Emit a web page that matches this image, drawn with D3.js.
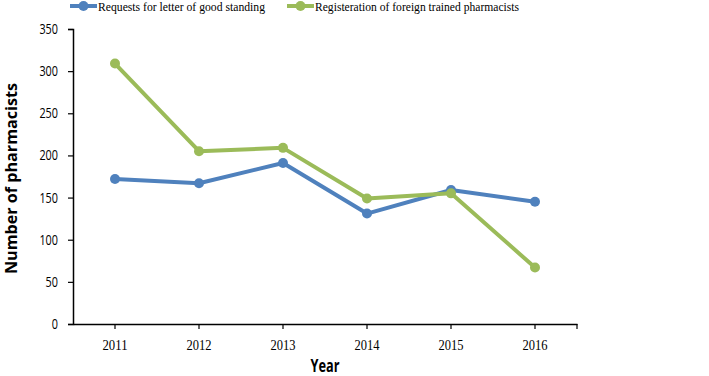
<!DOCTYPE html>
<html>
<head>
<meta charset="utf-8">
<script src="https://cdn.jsdelivr.net/npm/d3@7"></script>
<style>
  body { margin: 0; background: #fff; }
</style>
</head>
<body>
<div id="chart"></div>
<script>
// chart data
const years = ['2011', '2012', '2013', '2014', '2015', '2016'];
const goodStanding = [172, 167, 191, 131, 159, 145];
const foreignTrained = [309, 205, 209, 149, 155, 67];
const yTicks = [0, 50, 100, 150, 200, 250, 300, 350];

const seriesList = [
    { name: 'Requests for letter of good standing', values: goodStanding, color: '#4F81BD' },
    { name: 'Registeration of foreign trained pharmacists', values: foreignTrained, color: '#9BBB59' }
];

const width = 709, height = 376;
const margin = { top: 29, right: 132, bottom: 52, left: 73 };

const svg = d3.select('#chart')
    .append('svg')
    .attr('width', width)
    .attr('height', height);

const x = d3.scaleBand()
    .domain(years)
    .range([margin.left, width - margin.right]);

const y = d3.scaleLinear()
    .domain([0, 350])
    .range([height - margin.bottom, margin.top]);

// y axis
const yAxis = svg.append('g')
    .attr('transform', `translate(${margin.left},0)`)
    .call(d3.axisLeft(y).tickValues(yTicks).tickSize(5).tickPadding(10));
yAxis.select('.domain').attr('stroke', '#000').attr('stroke-width', 1.5);
yAxis.selectAll('.tick line').attr('stroke', '#000').attr('stroke-width', 1.2);
yAxis.selectAll('.tick text')
    .attr('font-family', '"Open Sans", sans-serif')
    .attr('font-size', 14)
    .attr('fill', '#000')
    .attr('textLength', d => String(d).length * 6.2)
    .attr('lengthAdjust', 'spacingAndGlyphs');

// x axis, ticks at category centres plus an end tick
const xAxisY = y(0);
const xAxis = svg.append('g')
    .attr('transform', `translate(0,${xAxisY})`)
    .call(d3.axisBottom(x).tickSize(5).tickSizeOuter(0).tickPadding(10));
xAxis.select('.domain').attr('stroke', '#000').attr('stroke-width', 1.5);
xAxis.selectAll('.tick line').attr('stroke', '#000').attr('stroke-width', 1.2);
xAxis.selectAll('.tick text')
    .attr('font-family', '"Liberation Serif", serif')
    .attr('font-size', 15)
    .attr('fill', '#000')
    .attr('textLength', 25)
    .attr('lengthAdjust', 'spacingAndGlyphs');
xAxis.append('line')
    .attr('x1', x.range()[1]).attr('x2', x.range()[1])
    .attr('y1', 0).attr('y2', 5)
    .attr('stroke', '#000').attr('stroke-width', 1.2);

// axis titles
svg.append('text')
    .attr('x', (x.range()[0] + x.range()[1]) / 2)
    .attr('y', 372)
    .attr('text-anchor', 'middle')
    .attr('font-family', '"Open Sans", sans-serif')
    .attr('font-weight', 'bold')
    .attr('font-size', 17)
    .attr('textLength', 29)
    .attr('lengthAdjust', 'spacingAndGlyphs')
    .text('Year');

svg.append('text')
    .attr('transform', `translate(17,${(y(0) + y(350)) / 2 + 2}) rotate(-90)`)
    .attr('text-anchor', 'middle')
    .attr('font-family', '"Open Sans", sans-serif')
    .attr('font-weight', 'bold')
    .attr('font-size', 16)
    .attr('textLength', 191)
    .attr('lengthAdjust', 'spacingAndGlyphs')
    .text('Number of pharmacists');

// lines and markers
const line = d3.line()
    .x((d, i) => x(years[i]) + x.bandwidth() / 2)
    .y(d => y(d));

seriesList.forEach(s => {
    svg.append('path')
        .datum(s.values)
        .attr('d', line)
        .attr('fill', 'none')
        .attr('stroke', s.color)
        .attr('stroke-width', 4)
        .attr('stroke-linejoin', 'round');

    svg.selectAll(null)
        .data(s.values)
        .enter()
        .append('circle')
        .attr('cx', (d, i) => x(years[i]) + x.bandwidth() / 2)
        .attr('cy', d => y(d))
        .attr('r', 5)
        .attr('fill', s.color);
});

// legend
const legendX = [70, 287];
const legendTextLen = [167, 204];
seriesList.forEach((s, i) => {
    const g = svg.append('g').attr('transform', `translate(${legendX[i]},6)`);
    g.append('line')
        .attr('x1', 0).attr('x2', 27)
        .attr('y1', 0).attr('y2', 0)
        .attr('stroke', s.color).attr('stroke-width', 4);
    g.append('circle').attr('cx', 13.5).attr('cy', 0).attr('r', 5).attr('fill', s.color);
    g.append('text')
        .attr('x', 28)
        .attr('y', 5)
        .attr('font-family', '"Liberation Serif", serif')
        .attr('font-size', 13)
        .attr('fill', '#000')
        .attr('textLength', legendTextLen[i])
        .attr('lengthAdjust', 'spacingAndGlyphs')
        .text(s.name);
});
</script>
</body>
</html>
